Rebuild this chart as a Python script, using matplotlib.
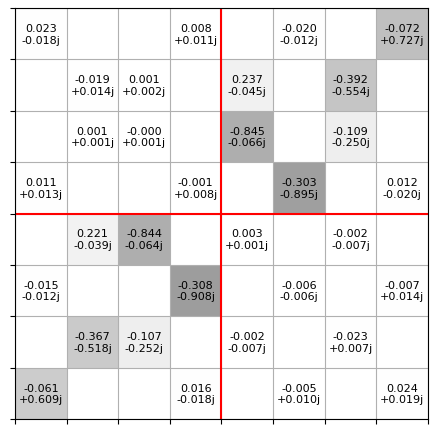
import numpy as np
import matplotlib
matplotlib.use("Agg")
import matplotlib.pyplot as plt

# real and imaginary parts, row 0 is the top row of the grid
real_part = [
    [0.023, 0, 0, 0.008, 0, -0.020, 0, -0.072],
    [0, -0.019, 0.001, 0, 0.237, 0, -0.392, 0],
    [0, 0.001, -0.0004, 0, -0.845, 0, -0.109, 0],
    [0.011, 0, 0, -0.001, 0, -0.303, 0, 0.012],
    [0, 0.221, -0.844, 0, 0.003, 0, -0.002, 0],
    [-0.015, 0, 0, -0.308, 0, -0.006, 0, -0.007],
    [0, -0.367, -0.107, 0, -0.002, 0, -0.023, 0],
    [-0.061, 0, 0, 0.016, 0, -0.005, 0, 0.024],
]
imag_part = [
    [-0.018, 0, 0, 0.011, 0, -0.012, 0, 0.727],
    [0, 0.014, 0.002, 0, -0.045, 0, -0.554, 0],
    [0, 0.001, 0.001, 0, -0.066, 0, -0.250, 0],
    [0.013, 0, 0, 0.008, 0, -0.895, 0, -0.020],
    [0, -0.039, -0.064, 0, 0.001, 0, -0.007, 0],
    [-0.012, 0, 0, -0.908, 0, -0.006, 0, 0.014],
    [0, -0.518, -0.252, 0, -0.007, 0, 0.007, 0],
    [0.609, 0, 0, -0.018, 0, 0.010, 0, 0.019],
]

z = np.array(real_part) + 1j * np.array(imag_part)
n = z.shape[0]

fig = plt.figure(figsize=(4.38, 4.35), dpi=100)
ax = fig.add_axes([0.0342, 0.0345, 0.9430, 0.9445])

edges = np.arange(n + 1)
ax.pcolormesh(edges, edges, np.abs(z), cmap="Greys", vmin=0, vmax=2)

for i in range(n):
    for j in range(n):
        v = z[i, j]
        if v == 0:
            continue
        ax.text(j + 0.5, i + 0.5, f"{v.real:.3f}\n{v.imag:+.3f}j",
                ha="center", va="center", fontsize=8, color="black")

ax.set_xlim(0, n)
ax.set_ylim(n, 0)
ax.set_xticks(edges)
ax.set_yticks(edges)
ax.set_xticklabels([])
ax.set_yticklabels([])
ax.grid(True, color="#b0b0b0", linewidth=0.8)

ax.axvline(n / 2, color="red", linewidth=1.5)
ax.axhline(n / 2, color="red", linewidth=1.5)

fig.savefig("out.png", dpi=100)
